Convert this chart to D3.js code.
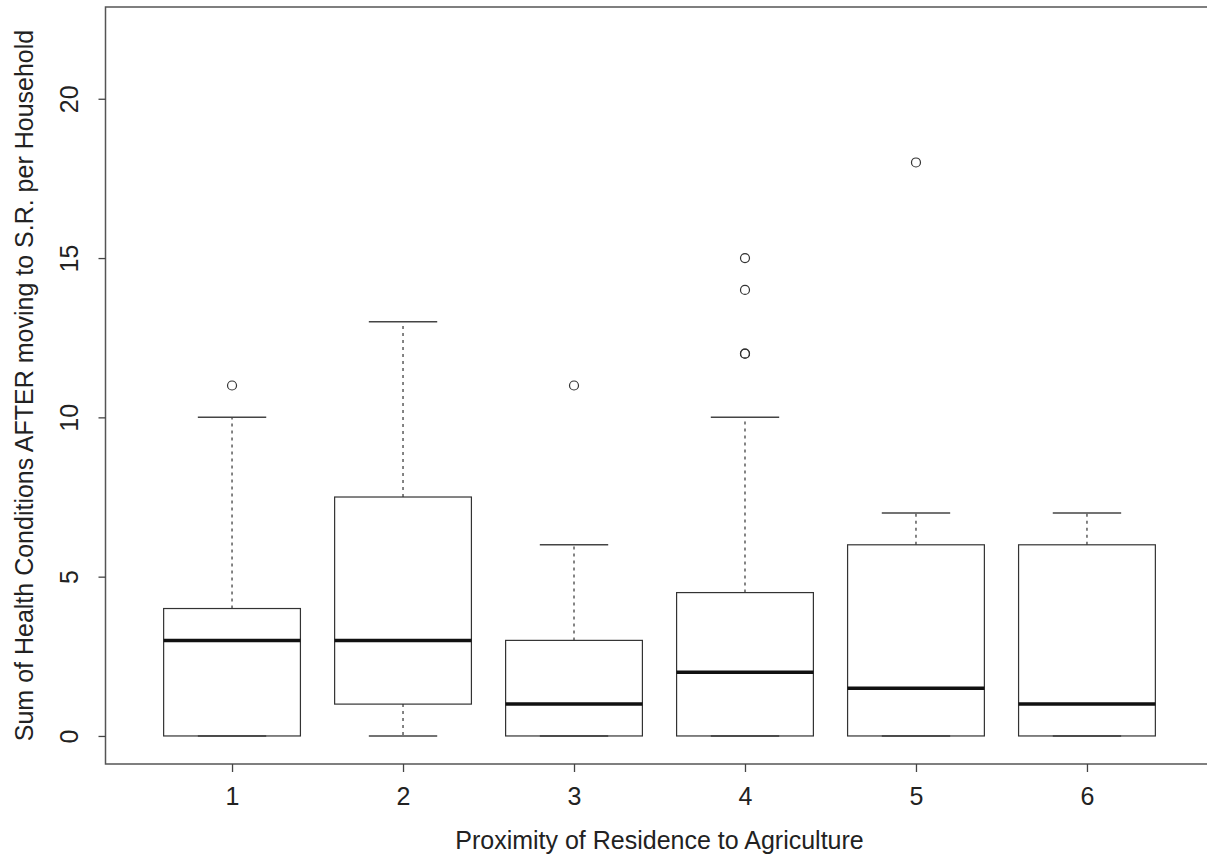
<!DOCTYPE html>
<html>
<head>
<meta charset="utf-8">
<script src="https://cdn.jsdelivr.net/npm/d3@7"></script>
<style>
  body { margin: 0; background: #fff; }
  svg { display: block; }
  text { font-family: "Liberation Sans", Arial, sans-serif; fill: #222; }
</style>
</head>
<body>
<div id="chart"></div>
<script>
const categories = ['1', '2', '3', '4', '5', '6'];
const lowerWhisker = [0, 0, 0, 0, 0, 0];
const q1 = [0, 1, 0, 0, 0, 0];
const median = [3, 3, 1, 2, 1.5, 1];
const q3 = [4, 7.5, 3, 4.5, 6, 6];
const upperWhisker = [10, 13, 6, 10, 7, 7];
const outliers = [[11], [], [11], [12, 12, 14, 15], [18], []];
const yTicks = [0, 5, 10, 15, 20];

const width = 1207;
const height = 860;
const plot = { left: 105.5, right: 1213.5, top: 7, bottom: 764 };
const fontSize = 25;

const svg = d3.select('#chart')
  .append('svg')
  .attr('width', width)
  .attr('height', height);

// R style: xlim 0.5..6.5 and ylim 0..22, each padded by 4%
const x = d3.scaleLinear().domain([0.26, 6.74]).range([plot.left, plot.right]);
const y = d3.scaleLinear().domain([-0.88, 22.88]).range([plot.bottom, plot.top]);

const boxes = categories.map((c, i) => ({
  pos: i + 1,
  lo: lowerWhisker[i], q1: q1[i], med: median[i], q3: q3[i], hi: upperWhisker[i],
  out: outliers[i]
}));

const halfBox = 0.4;
const halfCap = 0.2;

const g = svg.append('g');

// whiskers (dashed)
g.selectAll('.whisker-up')
  .data(boxes)
  .join('line')
  .attr('x1', d => x(d.pos)).attr('x2', d => x(d.pos))
  .attr('y1', d => y(d.q3)).attr('y2', d => y(d.hi))
  .attr('stroke', '#333').attr('stroke-width', 1.2)
  .attr('stroke-dasharray', '3,4');

g.selectAll('.whisker-down')
  .data(boxes.filter(d => d.q1 > d.lo))
  .join('line')
  .attr('x1', d => x(d.pos)).attr('x2', d => x(d.pos))
  .attr('y1', d => y(d.q1)).attr('y2', d => y(d.lo))
  .attr('stroke', '#333').attr('stroke-width', 1.2)
  .attr('stroke-dasharray', '3,4');

// staples
g.selectAll('.cap-hi')
  .data(boxes)
  .join('line')
  .attr('x1', d => x(d.pos - halfCap)).attr('x2', d => x(d.pos + halfCap))
  .attr('y1', d => y(d.hi)).attr('y2', d => y(d.hi))
  .attr('stroke', '#444').attr('stroke-width', 1.5);

g.selectAll('.cap-lo')
  .data(boxes)
  .join('line')
  .attr('x1', d => x(d.pos - halfCap)).attr('x2', d => x(d.pos + halfCap))
  .attr('y1', d => y(d.lo)).attr('y2', d => y(d.lo))
  .attr('stroke', '#444').attr('stroke-width', 1.5);

// boxes
g.selectAll('.box')
  .data(boxes)
  .join('rect')
  .attr('x', d => x(d.pos - halfBox))
  .attr('width', d => x(d.pos + halfBox) - x(d.pos - halfBox))
  .attr('y', d => y(d.q3))
  .attr('height', d => y(d.q1) - y(d.q3))
  .attr('fill', 'none')
  .attr('stroke', '#333').attr('stroke-width', 1.2);

// medians
g.selectAll('.median')
  .data(boxes)
  .join('line')
  .attr('x1', d => x(d.pos - halfBox)).attr('x2', d => x(d.pos + halfBox))
  .attr('y1', d => y(d.med)).attr('y2', d => y(d.med))
  .attr('stroke', '#111').attr('stroke-width', 3.5);

// outliers
g.selectAll('.outlier')
  .data(boxes.flatMap(d => d.out.map(v => ({ pos: d.pos, v }))))
  .join('circle')
  .attr('cx', d => x(d.pos))
  .attr('cy', d => y(d.v))
  .attr('r', 4.5)
  .attr('fill', 'none')
  .attr('stroke', '#333').attr('stroke-width', 1.2);

// frame
svg.append('rect')
  .attr('x', plot.left).attr('y', plot.top)
  .attr('width', plot.right - plot.left)
  .attr('height', plot.bottom - plot.top)
  .attr('fill', 'none')
  .attr('stroke', '#555').attr('stroke-width', 1.5);

// axes
const xAxis = svg.append('g')
  .attr('transform', `translate(0,${plot.bottom})`)
  .call(d3.axisBottom(x)
    .tickValues(categories.map(Number))
    .tickFormat(d3.format('d'))
    .tickSize(8).tickSizeOuter(0));
xAxis.select('.domain').remove();
xAxis.selectAll('line').attr('stroke', '#444').attr('stroke-width', 1.3);
xAxis.selectAll('text')
  .attr('font-size', fontSize).attr('fill', '#222')
  .attr('font-family', '"Liberation Sans", Arial, sans-serif')
  .attr('y', 41).attr('dy', 0);

const yAxis = svg.append('g')
  .attr('transform', `translate(${plot.left},0)`)
  .call(d3.axisLeft(y).tickValues(yTicks).tickSize(7).tickSizeOuter(0));
yAxis.select('.domain').remove();
yAxis.selectAll('line').attr('stroke', '#444').attr('stroke-width', 1.3);
yAxis.selectAll('text')
  .attr('font-size', fontSize).attr('fill', '#222')
  .attr('font-family', '"Liberation Sans", Arial, sans-serif')
  .attr('text-anchor', 'middle')
  .attr('x', 0).attr('y', 0).attr('dy', 0)
  .attr('transform', 'translate(-27.5,0) rotate(-90)');

// axis titles
svg.append('text')
  .attr('x', (plot.left + plot.right) / 2)
  .attr('y', 849)
  .attr('text-anchor', 'middle')
  .attr('font-size', fontSize)
  .text('Proximity of Residence to Agriculture');

svg.append('text')
  .attr('transform', `translate(33,${(plot.top + plot.bottom) / 2}) rotate(-90)`)
  .attr('text-anchor', 'middle')
  .attr('font-size', fontSize)
  .text('Sum of Health Conditions AFTER moving to S.R. per Household');
</script>
</body>
</html>
